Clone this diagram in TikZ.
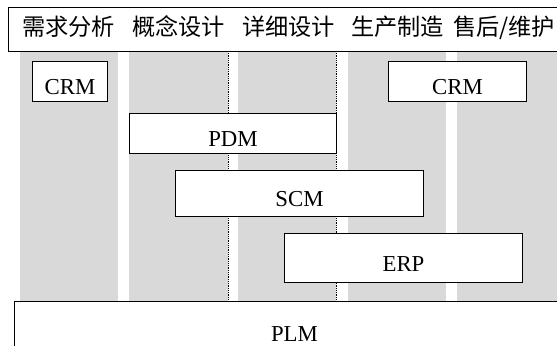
\documentclass[tikz,border=0pt]{standalone}
\usepackage{fontspec}
\setmainfont{Liberation Serif}
\newfontfamily\cjk{Noto Sans CJK SC}
\definecolor{colgray}{HTML}{D9D9D9}
\begin{document}
\begin{tikzpicture}[x=1bp,y=-1bp,
  sysbox/.style={draw=black, line width=1bp, fill=white, rectangle, inner sep=0pt, anchor=north west,
    text height=26bp, text depth=0pt, font=\fontsize{22.8bp}{26bp}\selectfont},
  hdrbox/.style={draw=black, line width=1.2bp, fill=white, rectangle, inner sep=0pt, anchor=north west},
  phase/.style={anchor=base west, inner sep=0pt, font=\cjk\fontsize{23.2bp}{26bp}\selectfont},
  sepline/.style={densely dotted, line width=0.8bp}]
\useasboundingbox (0,0) rectangle (557,345);
\clip (0,0) rectangle (557,345);
% grey phase columns
\fill[colgray] (20,51) rectangle (118,301);
\fill[colgray] (129,51) rectangle (228,301);
\fill[colgray] (238,51) rectangle (336,301);
\fill[colgray] (348,51) rectangle (446,301);
\fill[colgray] (457,51) rectangle (562,301);
% dotted separators
\coordinate (d1t) at (228,51); \coordinate (d1b) at (228,301);
\coordinate (d2t) at (336,51); \coordinate (d2b) at (336,301);
\draw[sepline] (d1t) -- (d1b);
\draw[sepline] (d2t) -- (d2b);
% header
\node[hdrbox, minimum width=562bp, minimum height=44bp] (hdr) at (8,7) {};
\node[phase] (p1) at (22,35) {需求分析};
\node[phase] (p2) at (132,35) {概念设计};
\node[phase] (p3) at (242,35) {详细设计};
\node[phase] (p4) at (351,35) {生产制造};
\node[phase] (p5) at (453,35) {售后/维护};
% systems
\node[sysbox, minimum width=75bp, minimum height=40bp] (crm1) at (32,61) {CRM};
\node[sysbox, minimum width=138bp, minimum height=40bp] (crm2) at (388,61) {CRM};
\node[sysbox, minimum width=207bp, minimum height=40bp] (pdm) at (129,113) {PDM};
\node[sysbox, minimum width=248bp, minimum height=46bp] (scm) at (175,170) {SCM};
\node[sysbox, minimum width=238bp, minimum height=49bp] (erp) at (284,233) {ERP};
\node[sysbox, minimum width=560bp, minimum height=55bp] (plm) at (14,300.5) {PLM};
\end{tikzpicture}
\end{document}
